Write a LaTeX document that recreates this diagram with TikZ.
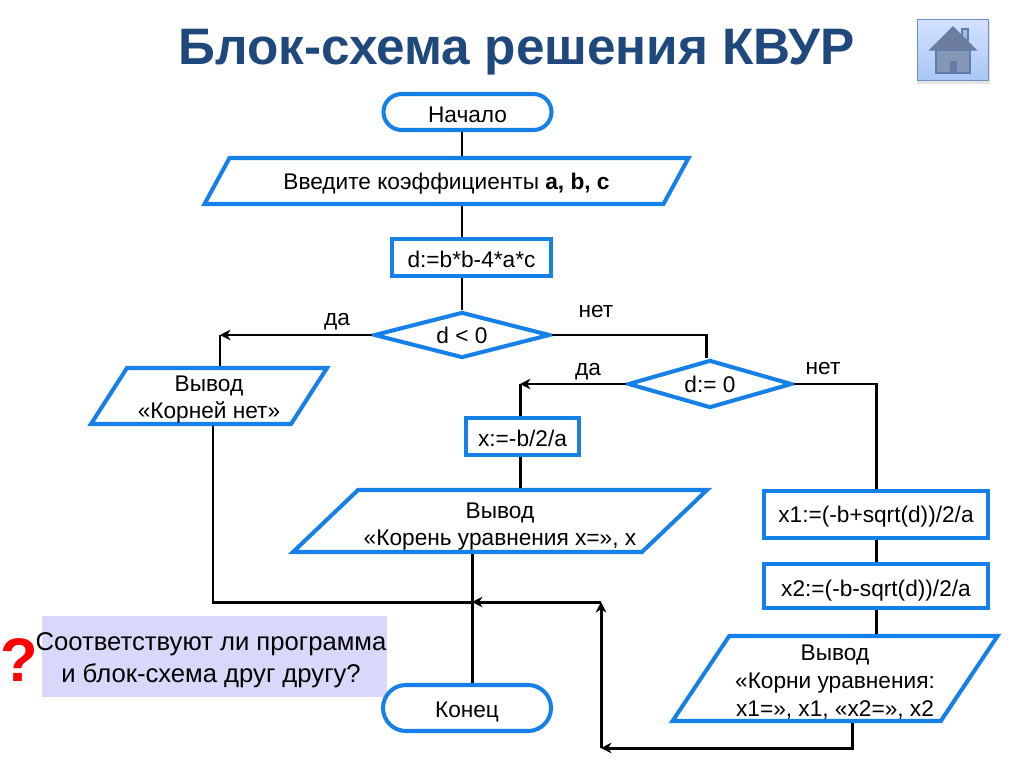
\documentclass[tikz,border=0pt]{standalone}
\usepackage{fontspec}
\setmainfont{Liberation Sans}
\usetikzlibrary{arrows.meta,shapes.geometric,shapes.misc}
\definecolor{blockblue}{HTML}{1580E8}
\definecolor{titleblue}{HTML}{1F497D}
\definecolor{askfill}{HTML}{D8D8FA}
\definecolor{homeedge}{HTML}{6F8FC4}
\definecolor{homeline}{HTML}{5F7CB0}
\newcommand{\px}{0.02cm}
\newcommand{\blockfont}{\fontsize{12.9}{15.6}\selectfont}
\tikzset{
	blockline/.style={draw=blockblue, line width=2.3pt, fill=white, font=\blockfont, align=center, inner sep=0pt, text depth=0pt},
	procbox/.style 2 args={blockline, rectangle, minimum width=#1*\px, minimum height=#2*\px},
	termbox/.style={blockline, rounded rectangle, minimum width=168*\px, minimum height=#1*\px},
	iobox/.style n args={4}{blockline, trapezium, trapezium stretches body=true, trapezium left angle=#3, trapezium right angle=#4, inner xsep=-30pt, minimum width=#1*\px, minimum height=#2*\px},
	testbox/.style 2 args={blockline, diamond, shape aspect=3.8, minimum width=#1*\px, minimum height=#2*\px},
	flow/.style={line width=1.7pt},
	flowarrow/.style={flow, -{Stealth[length=6pt,width=6pt]}},
	answer/.style={font=\blockfont, text depth=0pt}
}
\begin{document}
\begin{tikzpicture}[x=\px, y=-\px]
	  \useasboundingbox (0,0) rectangle (1024,767);
	  \node[font=\fontsize{29.2}{34}\selectfont\bfseries, text=titleblue] (title) at (517,52) {Блок-схема решения КВУР};
	  % home button
	  \fill[black!35, opacity=0.3] (917,22) rectangle (990,84);
	  \node[draw=homeedge, line width=1.1pt, top color={rgb,255:red,211;green,226;blue,255}, bottom color={rgb,255:red,169;green,198;blue,245}, minimum width=71*\px, minimum height=61*\px, inner sep=0pt] (homebtn) at (953,50) {};
	  \filldraw[draw=homeline, fill=homeedge!60!white, line width=0.7pt] (962,40) rectangle (968,29);
	  \filldraw[draw=homeline, fill=homeline!75!gray!80!white, line width=0.7pt] (936,50) rectangle (970,73);
	  \filldraw[draw=homeline, fill=homeline!60!gray, line width=0.7pt] (930,50) -- (953,27) -- (976,50) -- cycle;
	  \fill[homeline!80!gray] (950,61) rectangle (957,73);
	  % the blocks
	  \node[termbox=36, text height=11.6pt] (start) at (467.5,112) {Начало};
	  \node[iobox={484}{46}{33.3}{146.7}] (input) at (446.5,181) {Введите коэффициенты \textbf{a, b, c}};
	  \node[procbox={159}{37}, text height=11.6pt] (discr) at (471.5,257.5) {d:=b*b-4*a*c};
	  \node[testbox={176}{46}] (test1) at (462,335) {d < 0};
	  \node[iobox={236}{56}{51.8}{128.2}, text height=26pt] (noroots) at (209,396) {Вывод\\«Корней нет»};
	  \node[testbox={164}{48}] (test2) at (710,384) {d:= 0};
	  \node[procbox={113}{37}, text height=11pt] (oneroot) at (522.5,436.5) {x:=-b/2/a};
	  \node[iobox={414}{62}{37.1}{142.9}, text height=28pt] (onerootout) at (500,521) {Вывод\\«Корень уравнения x=», x};
	  \node[procbox={224}{47}] (rootone) at (876,514.5) {x1:=(-b+sqrt(d))/2/a};
	  \node[procbox={224}{44}, text height=12.5pt] (roottwo) at (876,586) {x2:=(-b-sqrt(d))/2/a};
	  \node[iobox={325}{85}{53.5}{126.5}, text height=43.6pt, font=\fontsize{12.9}{16}\selectfont] (tworoots) at (835,678.5) {Вывод\\«Корни уравнения:\\x1=», x1, «x2=», x2};
	  % turning points of the lines
	  \coordinate (turnA) at (220,335);
	  \coordinate (turnB) at (706,335);
	  \coordinate (turnC) at (520,384);
	  \coordinate (turnD) at (876,384);
	  \coordinate (mergeL) at (213,602);
	  \coordinate (mergeC) at (472,602);
	  \coordinate (mergeR) at (601,602);
	  \coordinate (mergeB) at (601,748);
	  \coordinate (backR) at (852,748);
	  % question
	  \node[fill=askfill, minimum width=345*\px, minimum height=81*\px, inner sep=0pt] (askbox) at (214.5,656.5) {};
	  \node[font=\fontsize{14.6}{18.3}\selectfont, align=center, inner sep=0pt] (asktext) at (211,660.5) {Соответствуют ли программа\\и блок-схема друг другу?};
	  \node[font=\fontsize{35}{40}\selectfont\bfseries, text=red, inner sep=0pt] (askmark) at (19,660) {?};
	  \node[termbox=46, text height=11.2pt] (finish) at (467,708) {Конец};
	  % the lines
	  \draw[flow] (start.south -| test1.north) -- (input.north -| test1.north);
	  \draw[flow] (input.south -| test1.north) -- (discr.north -| test1.north);
	  \draw[flow] (discr.south -| test1.north) -- (test1.north);
	  \draw[flowarrow] (test1.west) -- (turnA);
	  \draw[flow] (turnA) -- (turnA |- noroots.north);
	  \draw[flow] (test1.east) -- (turnB) -- (turnB |- test2.north);
	  \draw[flowarrow] (test2.west) -- (turnC);
	  \draw[flow] (turnC) -- (turnC |- oneroot.north);
	  \draw[flow] (oneroot.south -| turnC) -- (onerootout.north -| turnC);
	  \draw[flow] (test2.east) -- (turnD) -- (rootone.north);
	  \draw[flow] (rootone.south) -- (roottwo.north);
	  \draw[flow] (roottwo.south) -- (roottwo.south |- tworoots.north);
	  \draw[flow] (noroots.south -| mergeL) -- (mergeL) -- (mergeC);
	  \draw[flow] (onerootout.south -| mergeC) -- (finish.north -| mergeC);
	  \draw[flowarrow] (mergeR) -- (mergeC);
	  \draw[flowarrow] (mergeB) -- (mergeR);
	  \draw[flowarrow] (tworoots.south -| backR) -- (backR) -- (mergeB);
	  % answers
	  \node[answer] (yesA) at (337,319) {да};
	  \node[answer] (noA) at (596,311) {нет};
	  \node[answer] (yesB) at (588,369) {да};
	  \node[answer] (noB) at (823,368) {нет};
	\end{tikzpicture}
\end{document}
